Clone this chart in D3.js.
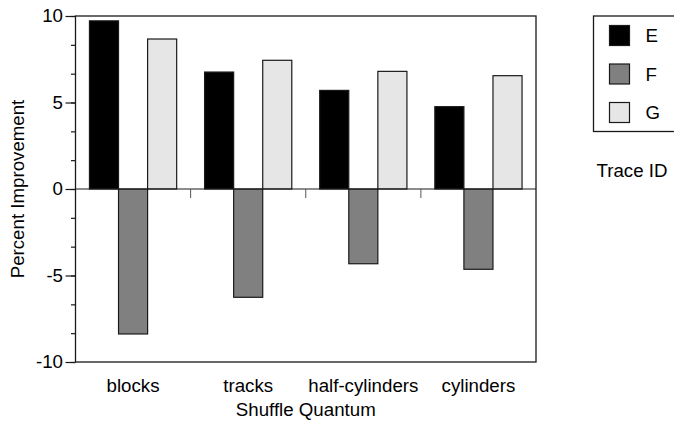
<!DOCTYPE html>
<html>
<head>
<meta charset="utf-8">
<script src="https://cdn.jsdelivr.net/npm/d3@7"></script>
<style>
  body { margin: 0; background: #fff; }
  text { font-family: "Liberation Sans", Arial, sans-serif; fill: #000; }
</style>
</head>
<body>
<div id="chart"></div>
<script>
var categories = ["blocks", "tracks", "half-cylinders", "cylinders"];
var traces = ["E", "F", "G"];
var valuesE = [9.72, 6.76, 5.7, 4.76];
var valuesF = [-8.38, -6.26, -4.32, -4.64];
var valuesG = [8.67, 7.44, 6.8, 6.55];
var majorTicks = [-10, -5, 0, 5, 10];
var colors = ["#000000", "#808080", "#e6e6e6"];

var series = [valuesE, valuesF, valuesG];
var fs = "18.7px";

var svg = d3.select("#chart").append("svg")
  .attr("width", 674)
  .attr("height", 421);

var pLeft = 75.5, pRight = 536, pTop = 16, pBottom = 362;

var x = d3.scaleBand()
  .domain(categories)
  .range([pLeft, pRight])
  .padding(0);

var xi = d3.scaleBand()
  .domain(traces)
  .range([0, x.bandwidth()])
  .paddingInner(0)
  .paddingOuter(0.48);

var y = d3.scaleLinear()
  .domain([-10, 10])
  .range([pBottom, pTop]);

// bars
var rows = [];
for (var i = 0; i < categories.length; i++) {
  for (var j = 0; j < traces.length; j++) {
    rows.push({cat: categories[i], trace: traces[j], v: series[j][i], c: colors[j]});
  }
}

svg.append("g").selectAll("rect")
  .data(rows)
  .enter().append("rect")
  .attr("x", function(d) { return x(d.cat) + xi(d.trace); })
  .attr("width", xi.bandwidth())
  .attr("y", function(d) { return y(Math.max(0, d.v)); })
  .attr("height", function(d) { return Math.abs(y(d.v) - y(0)); })
  .style("fill", function(d) { return d.c; })
  .style("stroke", "#1a1a1a")
  .style("stroke-width", 1.2);

// frame
svg.append("rect")
  .attr("x", pLeft).attr("y", pTop)
  .attr("width", pRight - pLeft).attr("height", pBottom - pTop)
  .style("fill", "none")
  .style("stroke", "#1a1a1a")
  .style("stroke-width", 1.3);

// zero line
svg.append("line")
  .attr("x1", pLeft).attr("x2", pRight)
  .attr("y1", y(0)).attr("y2", y(0))
  .style("stroke", "#1a1a1a")
  .style("stroke-width", 1.2);

// category separators under zero line
svg.append("g").selectAll("line")
  .data(categories.slice(1))
  .enter().append("line")
  .attr("x1", function(d) { return x(d); })
  .attr("x2", function(d) { return x(d); })
  .attr("y1", y(0))
  .attr("y2", y(0) + 9)
  .style("stroke", "#555")
  .style("stroke-width", 1);

// y axis minor ticks
var minor = d3.range(-10, 10.01, 5 / 3);
svg.append("g")
  .attr("transform", "translate(" + pLeft + ",0)")
  .call(d3.axisLeft(y).tickValues(minor).tickSize(4.5).tickFormat(""))
  .call(function(g) { g.select(".domain").remove(); })
  .selectAll("line").style("stroke", "#1a1a1a").style("stroke-width", 1.2);

// y axis major ticks (plain hyphen for negatives, like the original)
var yAxis = svg.append("g")
  .attr("transform", "translate(" + pLeft + ",0)")
  .call(d3.axisLeft(y).tickValues(majorTicks).tickSize(10).tickPadding(2.5)
    .tickFormat(function(d) { return String(d); }));
yAxis.select(".domain").remove();
yAxis.selectAll("line").style("stroke", "#1a1a1a").style("stroke-width", 1.2);
yAxis.selectAll("text")
  .style("font-family", "'Liberation Sans', Arial, sans-serif")
  .style("font-size", fs)
  .style("fill", "#000");

// category labels
svg.append("g").selectAll("text")
  .data(categories)
  .enter().append("text")
  .attr("x", function(d) { return x(d) + x.bandwidth() / 2; })
  .attr("y", 392)
  .attr("text-anchor", "middle")
  .style("font-size", fs)
  .text(function(d) { return d; });

svg.append("text")
  .attr("x", (pLeft + pRight) / 2)
  .attr("y", 415.5)
  .attr("text-anchor", "middle")
  .style("font-size", fs)
  .text("Shuffle Quantum");

svg.append("text")
  .attr("transform", "translate(24," + y(0) + ") rotate(-90)")
  .attr("text-anchor", "middle")
  .style("font-size", fs)
  .text("Percent Improvement");

// legend
var legend = svg.append("g");
legend.append("rect")
  .attr("x", 593.5).attr("y", 16)
  .attr("width", 110).attr("height", 115.5)
  .style("fill", "none")
  .style("stroke", "#1a1a1a")
  .style("stroke-width", 1.3);

var item = legend.selectAll("g.item")
  .data(traces)
  .enter().append("g")
  .attr("class", "item")
  .attr("transform", function(d, i) { return "translate(609.5," + (25.5 + i * 38.5) + ")"; });

item.append("rect")
  .attr("width", 20).attr("height", 20)
  .style("fill", function(d, i) { return colors[i]; })
  .style("stroke", "#1a1a1a")
  .style("stroke-width", 1.2);

item.append("text")
  .attr("x", 36).attr("y", 10)
  .attr("dy", "0.35em")
  .style("font-size", fs)
  .text(function(d) { return d; });

svg.append("text")
  .attr("x", 632)
  .attr("y", 177)
  .attr("text-anchor", "middle")
  .style("font-size", fs)
  .text("Trace ID");
</script>
</body>
</html>
